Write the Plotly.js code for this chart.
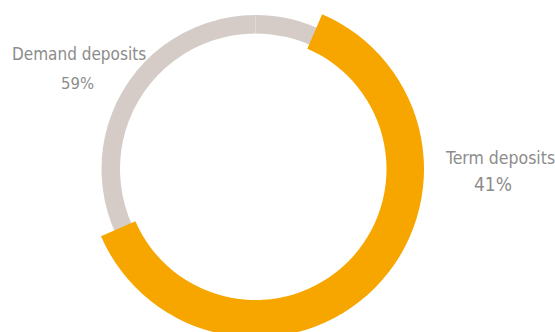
<!DOCTYPE html>
<html>
<head>
<meta charset="utf-8">
<script src="https://cdn.plot.ly/plotly-3.0.1.min.js"></script>
<style>
html,body{margin:0;padding:0;overflow:hidden;background:#fff;}
#chart{width:555px;height:360px;}
</style>
</head>
<body>
<div id="chart"></div>
<script>
// ---- data ----
var categories = ['Demand deposits', 'Term deposits'];
var shareValues = [59, 41];            // percentages printed on the labels
var arcShares = [38, 62];              // arc lengths as drawn in the picture (grey, orange)
var percentLabels = shareValues.map(function (v) { return v + '%'; });

// ---- geometry / style ----
var W = 555, H = 360;
var cx = 255.5, cy = 169;              // pixel centre (from top)
var greyOuter = 154, greyInner = 135.5;
var orangeOuter = 168.5, orangeInner = 131;
var grey = '#d5ccc8', orange = '#f7a600', textCol = '#8c8c8c';
var font = 'DejaVu Sans Condensed, Liberation Sans Narrow, sans-serif';

function dom(r) {
  return {
    x: [(cx - r) / W, (cx + r) / W],
    y: [(H - cy - r) / H, (H - cy + r) / H]
  };
}

var greyTrace = {
  type: 'pie',
  labels: categories,
  values: shareValues,
  sort: false,
  direction: 'clockwise',
  rotation: 0,
  hole: greyInner / greyOuter,
  domain: dom(greyOuter),
  marker: { colors: [grey, grey], line: { width: 0 } },
  textinfo: 'none',
  hoverinfo: 'skip',
  showlegend: false
};

var orangeTrace = {
  type: 'pie',
  labels: ['Term deposits arc', 'rest'],
  values: [arcShares[1], arcShares[0]],
  sort: false,
  direction: 'clockwise',
  rotation: 23.3,
  hole: orangeInner / orangeOuter,
  domain: dom(orangeOuter),
  marker: { colors: [orange, 'rgba(0,0,0,0)'], line: { width: 0 } },
  textinfo: 'none',
  hoverinfo: 'skip',
  showlegend: false
};

function ann(text, px, py, size) {
  return {
    text: text, xref: 'paper', yref: 'paper',
    x: px / W, y: (H - py) / H,
    xanchor: 'center', yanchor: 'middle',
    showarrow: false,
    font: { family: font, size: size, color: textCol }
  };
}

var layout = {
  width: W, height: H,
  margin: { l: 0, r: 0, t: 0, b: 0 },
  paper_bgcolor: '#fff',
  showlegend: false,
  annotations: [
    ann(categories[0], 79, 54, 17),
    ann(percentLabels[0], 77, 84, 16.5),
    ann(categories[1], 499.5, 158, 17.5),
    ann(percentLabels[1], 493, 184, 19)
  ]
};

Plotly.newPlot('chart', [greyTrace, orangeTrace], layout, { displayModeBar: false, staticPlot: true });
</script>
</body>
</html>
